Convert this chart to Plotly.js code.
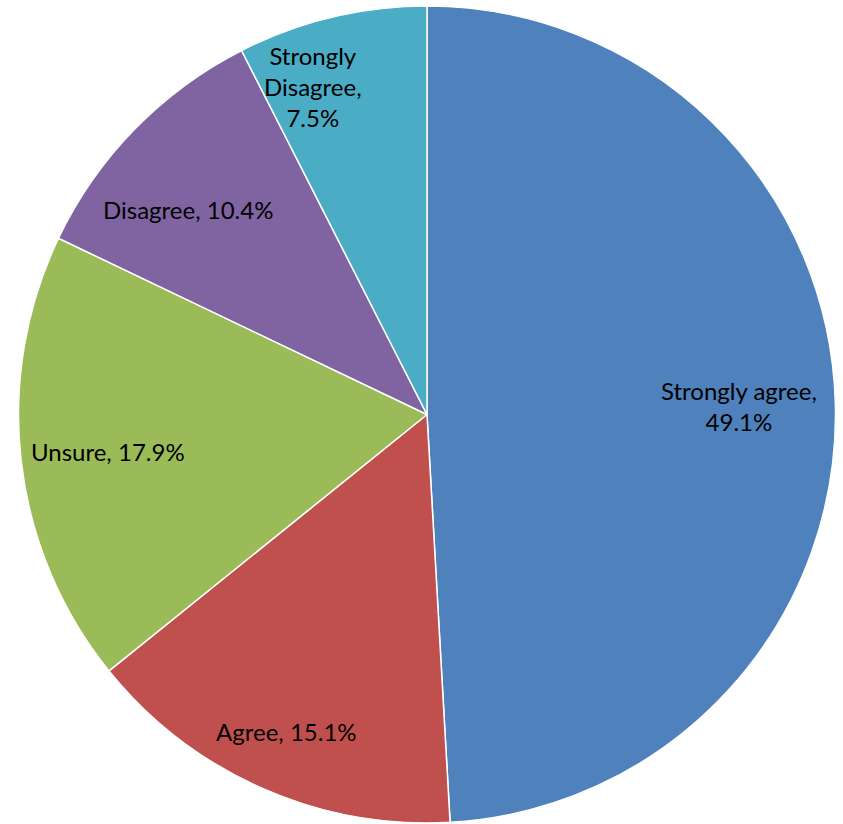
<!DOCTYPE html>
<html>
<head>
<meta charset="utf-8">
<script src="https://cdn.plot.ly/plotly-3.0.1.min.js"></script>
<style>html,body{margin:0;padding:0;background:#fff;}#chart{width:843px;height:824px;}</style>
</head>
<body>
<div id="chart"></div>
<script>
const categories = ["Strongly agree", "Agree", "Unsure", "Disagree", "Strongly Disagree"];
const values = [49.1, 15.1, 17.9, 10.4, 7.5];
const labelLines = ["Strongly agree,<br>49.1%", "Agree, 15.1%", "Unsure, 17.9%", "Disagree, 10.4%", "Strongly<br>Disagree,<br>7.5%"];
const colors = ["#4F81BD", "#C0504D", "#9BBB59", "#8064A2", "#4BACC6"];

// label placement style: radial fraction and angular nudge (degrees)
const radialFrac = [0.765, 0.85, 0.785, 0.77, 0.85];
const angleNudge = [0, 0, 0, -3.7, -5.6];

const W = 843, H = 824;
const margin = {l: 18, r: 7, t: 6, b: 1};
const pw = W - margin.l - margin.r, ph = H - margin.t - margin.b;
const R = Math.min(pw, ph) / 2;
const cx = margin.l + pw / 2, cy = margin.t + ph / 2;

const total = values.reduce((a, b) => a + b, 0);
let cum = 0;
const annotations = values.map((v, i) => {
  const mid = (cum + v / 2) / total * 360 + angleNudge[i];
  cum += v;
  const a = mid * Math.PI / 180;
  const px = cx + Math.sin(a) * R * radialFrac[i];
  const py = cy - Math.cos(a) * R * radialFrac[i];
  return {
    x: (px - margin.l) / pw, y: (H - margin.b - py) / ph,
    xref: "paper", yref: "paper", xanchor: "center", yanchor: "middle",
    showarrow: false,
    text: labelLines[i], align: "center",
    font: {family: "Lato, 'Open Sans', sans-serif", size: 24, color: "#000"}
  };
});

const data = [{
  type: "pie",
  labels: categories,
  values: values,
  sort: false,
  direction: "clockwise",
  rotation: 0,
  textinfo: "none",
  hoverinfo: "label+percent",
  marker: {colors: colors, line: {color: "#ffffff", width: 1.5}}
}];

const layout = {
  width: W, height: H,
  margin: margin,
  showlegend: false,
  paper_bgcolor: "#ffffff",
  annotations: annotations
};

Plotly.newPlot("chart", data, layout, {displayModeBar: false, staticPlot: true});
</script>
</body>
</html>
